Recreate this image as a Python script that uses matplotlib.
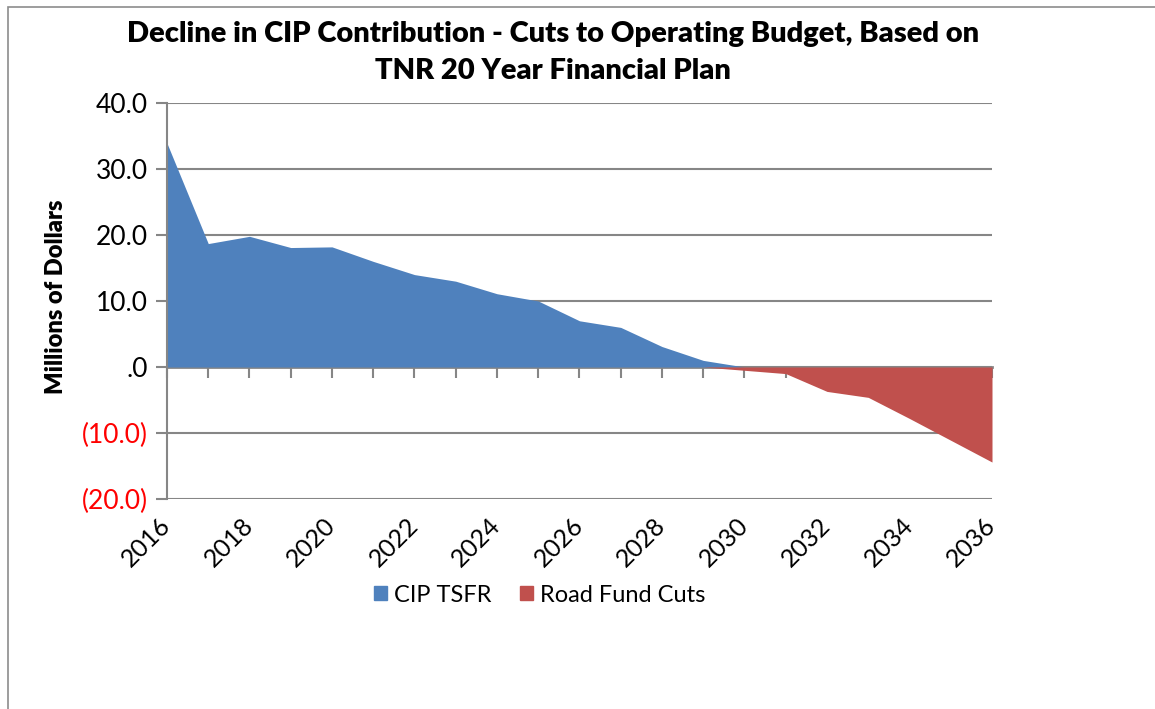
import numpy as np
import matplotlib
matplotlib.use("Agg")
import matplotlib.pyplot as plt
from matplotlib.patches import Patch, Rectangle

plt.rcParams["font.family"] = ["Lato", "DejaVu Sans"]

# data (millions of dollars)
years = list(range(2016, 2037))
cip_tsfr = [33.9, 18.7, 19.8, 18.1, 18.2, 16.0, 14.0, 13.0, 11.1, 10.0, 7.0,
            6.0, 3.1, 1.0, 0.0, 0.0, 0.0, 0.0, 0.0, 0.0, 0.0]
road_cuts = [0.0, 0.0, 0.0, 0.0, 0.0, 0.0, 0.0, 0.0, 0.0, 0.0, 0.0,
             0.0, 0.0, 0.0, -0.5, -1.0, -3.7, -4.6, -7.8, -11.1, -14.4]
y_ticks = [40, 30, 20, 10, 0, -10, -20]
x_labels = list(range(2016, 2037, 2))

blue = "#4F81BD"
red = "#C0504D"
grey = "#868686"

W, H = 1155, 709
fig = plt.figure(figsize=(W / 100, H / 100), dpi=100)
ax = fig.add_axes([167 / W, 1 - 499 / H, 825 / W, 396 / H])

ax.fill_between(years, 0, cip_tsfr, color=blue, linewidth=0, label="CIP TSFR")
ax.fill_between(years, 0, road_cuts, color=red, linewidth=0, label="Road Fund Cuts")

ax.set_xlim(years[0], years[-1])
ax.set_ylim(-20, 40)

# gridlines at every 10
for v in y_ticks:
    ax.axhline(v, color=grey, lw=1.5, zorder=0.5)

for s in ["top", "right", "bottom"]:
    ax.spines[s].set_visible(False)
ax.spines["left"].set_color(grey)
ax.spines["left"].set_linewidth(1.5)


def fmt(v):
    if v == 0:
        return ".0"
    if v < 0:
        return f"({abs(v):.1f})"
    return f"{v:.1f}"


ax.set_yticks(y_ticks)
ax.set_yticklabels([fmt(v) for v in y_ticks], fontsize=19)
for lab, v in zip(ax.get_yticklabels(), y_ticks):
    lab.set_color("red" if v < 0 else "black")
ax.tick_params(axis="y", direction="out", length=8, width=1.5, color=grey, pad=6)

# year labels below the plot, no tick marks there
ax.set_xticks(x_labels)
ax.set_xticklabels([str(y) for y in x_labels], fontsize=18, rotation=45,
                   ha="right", va="center", rotation_mode="anchor")
ax.tick_params(axis="x", length=0, pad=16)

# x axis with ticks along the zero line
zero_frac = (0 - (-20)) / 60
sec = ax.secondary_xaxis(zero_frac)
sec.set_xticks(years)
sec.set_xticklabels([])
sec.spines["bottom"].set_color(grey)
sec.spines["bottom"].set_linewidth(2)
sec.tick_params(direction="out", length=8, width=1.5, color=grey)

ax.set_ylabel("Millions of Dollars", fontsize=17, fontweight="heavy")
ax.yaxis.set_label_coords(-100 / 825, 0.51)

fig.text(553 / W, 1 - 34 / H, "Decline in CIP Contribution - Cuts to Operating Budget, Based on",
         ha="center", va="center", fontsize=21, fontweight="heavy")
fig.text(553 / W, 1 - 71 / H, "TNR 20 Year Financial Plan",
         ha="center", va="center", fontsize=21, fontweight="heavy")

handles = [Patch(color=blue, label="CIP TSFR"), Patch(color=red, label="Road Fund Cuts")]
fig.legend(handles=handles, loc="center", bbox_to_anchor=(540 / W, 1 - 595 / H),
           ncol=2, frameon=False, fontsize=17, handlelength=0.55, handleheight=0.55,
           handletextpad=0.3, columnspacing=1.2)

# chart area border
fig.add_artist(Rectangle((8 / W, -0.1), 1.2, 1.1 - 7 / H, transform=fig.transFigure,
                         fill=False, edgecolor="#8c8c8c", lw=1.2))

fig.savefig("out.png", dpi=100)
